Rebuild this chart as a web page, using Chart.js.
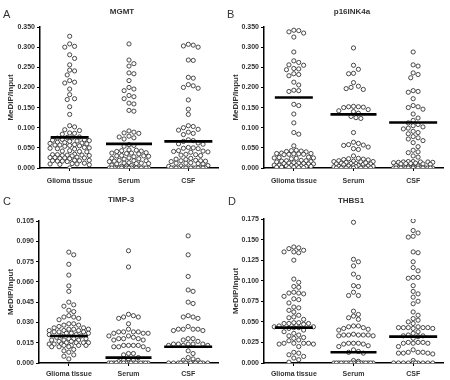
<!DOCTYPE html>
<html>
<head>
<meta charset="utf-8">
<script src="https://cdn.jsdelivr.net/npm/chart.js@4.4.1/dist/chart.umd.min.js"></script>
<style>
  html, body { margin: 0; padding: 0; background: #fff; }
  #wrap { position: relative; width: 450px; height: 380px; overflow: hidden; }
  canvas { position: absolute; }
</style>
</head>
<body>
<div id="wrap">
  <canvas id="cA" width="225" height="190" style="left:0;top:0"></canvas>
  <canvas id="cB" width="225" height="190" style="left:225px;top:0"></canvas>
  <canvas id="cC" width="225" height="190" style="left:0;top:190px"></canvas>
  <canvas id="cD" width="225" height="190" style="left:225px;top:190px"></canvas>
</div>
<script>
// ---------------- DATA ----------------
const categories = ['Glioma tissue', 'Serum', 'CSF'];

// Panel A: MGMT
const mgmtGlioma = [0.327,0.308,0.302,0.300,0.281,0.272,0.256,0.243,0.241,0.231,0.217,0.213,0.211,0.196,0.182,0.172,0.170,0.152,0.133,0.105,0.102,0.095,0.093,0.087,0.086,0.084,
  0.077,0.076,0.075,0.074,0.070,0.069,0.068,0.067,0.066,0.071,0.063,0.062,0.064,0.061,0.060,
  0.057,0.056,0.058,0.055,0.054,0.057,0.050,0.049,0.048,0.047,0.051,0.042,0.041,0.040,0.043,
  0.034,0.033,0.032,0.031,0.030,0.033,0.032,0.031,0.026,0.025,0.027,0.024,0.023,0.026,0.025,
  0.018,0.017,0.019,0.016,0.018,0.017,0.019,0.011,0.010,0.009,0.012,0.010,0.008,0.0];
const mgmtSerum = [0.308,0.268,0.259,0.253,0.236,0.234,0.217,0.200,0.196,0.192,0.180,0.177,0.172,0.161,0.159,0.143,0.141,
  0.092,0.089,0.087,0.086,0.079,0.077,0.075,0.072,0.058,0.056,0.054,
  0.045,0.043,0.042,0.044,0.041,0.037,0.036,0.038,0.035,0.037,0.030,0.029,0.031,0.028,0.030,
  0.024,0.023,0.025,0.022,0.018,0.017,0.019,0.016,0.018,0.012,0.011,0.013,0.010,0.012,0.011,
  0.006,0.005,0.007,0.004,0,0,0,0,0,0,0,0,0,0,0,0,0,0,0,0,0,0];
const mgmtCSF = [0.307,0.305,0.303,0.300,0.268,0.267,0.225,0.223,0.207,0.204,0.200,0.198,0.169,0.146,0.133,
  0.105,0.103,0.100,0.096,0.094,0.089,0.086,0.083,0.070,0.068,0.066,0.062,0.060,0.059,
  0.051,0.049,0.048,0.050,0.042,0.041,0.040,0.043,0.039,0.034,0.033,0.032,0.031,
  0.024,0.022,0.021,0.018,0.017,0.019,0.016,0.018,0.012,0.011,0.013,0.010,0.012,
  0.006,0.005,0.004,0,0,0,0,0,0,0,0,0,0,0,0,0,0];
const mgmtMeans = [0.076, 0.060, 0.066];
const mgmtTicks = [0, 0.05, 0.10, 0.15, 0.20, 0.25, 0.30, 0.35];

// Panel B: p16INK4a
const p16Glioma = [0.342,0.341,0.338,0.335,0.325,0.288,0.266,0.262,0.256,0.255,0.247,0.246,0.244,0.234,0.232,0.229,0.213,0.206,0.193,0.192,0.190,0.158,0.155,0.134,0.112,0.088,0.084,0.055,
  0.044,0.043,0.042,0.040,0.041,0.036,0.035,0.034,0.037,0.035,0.036,0.034,0.033,
  0.026,0.025,0.024,0.027,0.025,0.023,0.018,0.017,0.019,0.016,0.018,0.015,
  0.012,0.011,0.013,0.010,0.012,0.011,0.010,0.006,0.005,0.007,0.004,0.006,0.005,0.007,0.004,
  0.002,0.001,0.002,0.001,0.002,0.001];
const p16Serum = [0.298,0.255,0.245,0.235,0.234,0.212,0.203,0.200,0.197,0.195,0.153,0.152,0.152,0.151,0.150,0.145,0.142,0.140,0.136,0.128,0.125,0.123,
  0.088,0.064,0.061,0.058,0.057,0.056,0.052,0.048,0.046,0.030,0.024,0.022,0.021,0.020,0.023,
  0.017,0.016,0.015,0.018,0.014,0.016,0.011,0.010,0.012,0.009,0.010,0.011,0.013,0.008,
  0.006,0.005,0.004,0.006,0.003,0.005,0.004,0.003,0,0,0,0,0,0,0,0,0,0];
const p16CSF = [0.288,0.256,0.253,0.236,0.232,0.224,0.192,0.190,0.188,0.172,0.155,0.152,0.150,0.146,0.134,0.124,0.118,0.112,0.108,0.105,0.102,0.099,0.097,0.091,0.088,0.085,0.078,0.075,0.072,0.068,0.063,0.053,0.044,0.040,0.038,0.030,0.027,
  0.016,0.015,0.014,0.015,0.016,0.014,0.015,0.013,0.011,0.010,0.009,0.011,0.010,0.012,
  0.005,0.004,0.006,0.003,0,0,0,0,0,0,0,0,0,0,0,0,0,0,0,0,0,0];
const p16Means = [0.175, 0.133, 0.113];
const p16Ticks = [0, 0.05, 0.10, 0.15, 0.20, 0.25, 0.30, 0.35];

// Panel C: TIMP-3
const timpGlioma = [0.082,0.080,0.073,0.065,0.057,0.053,0.045,0.043,0.042,0.039,0.038,
  0.034,0.034,0.033,0.035,0.032,0.029,0.028,0.028,0.027,0.029,0.025,0.026,0.025,0.024,0.026,0.025,
  0.023,0.022,0.023,0.024,0.022,0.023,0.024,0.022,0.020,0.021,0.019,0.020,0.021,
  0.018,0.017,0.018,0.017,0.016,0.018,0.017,0.016,0.015,0.014,0.015,0.014,0.015,0.014,0.013,0.015,
  0.013,0.012,0.013,0.012,0.013,0.012,0.010,0.009,0.008,0.006,0.005,0.003];
const timpSerum = [0.083,0.071,0.036,0.035,0.034,0.034,0.033,0.029,0.025,
  0.023,0.023,0.022,0.023,0.022,0.023,0.022,0.020,0.019,0.020,0.018,0.017,0.018,0.017,0.018,
  0.013,0.013,0.012,0.013,0.012,0.013,0.012,0.010,0.007,0.006,0.007,0.004,0.003,0.002,0.001,0.002,
  0,0,0,0,0,0,0,0,0,0,0,0,0,0,0,0];
const timpCSF = [0.094,0.080,0.064,0.054,0.053,0.045,0.044,0.035,0.034,0.034,0.033,0.027,
  0.025,0.025,0.024,0.025,0.024,0.025,0.018,0.017,0.018,0.016,
  0.014,0.014,0.013,0.014,0.013,0.014,0.013,0.014,0.009,0.007,0.004,0.003,0.002,0.002,
  0,0,0,0,0,0,0,0,0,0,0,0,0,0];
const timpMeans = [0.020, 0.004, 0.012];
const timpTicks = [0, 0.015, 0.030, 0.045, 0.060, 0.075, 0.090, 0.105];

// Panel D: THBS1
const thbsGlioma = [0.141,0.140,0.139,0.137,0.135,0.135,0.134,0.125,0.102,0.098,0.093,0.092,0.086,0.085,0.085,0.084,0.081,0.078,0.077,0.073,0.068,0.067,0.064,0.062,0.058,0.056,0.055,0.053,
  0.049,0.048,0.048,0.047,0.049,0.048,0.045,0.044,0.043,0.042,0.044,0.043,
  0.040,0.038,0.036,0.034,0.033,0.031,0.030,0.028,0.027,0.024,0.024,0.023,0.024,0.023,0.024,
  0.020,0.013,0.012,0.010,0.008,0.006,0.004,0.001];
const thbsSerum = [0.171,0.126,0.123,0.118,0.108,0.104,0.094,0.093,0.086,0.082,0.082,0.063,0.059,0.057,0.055,0.053,
  0.045,0.044,0.043,0.042,0.041,0.045,0.040,0.034,0.034,0.033,0.034,0.035,0.033,0.034,0.034,
  0.024,0.023,0.024,0.023,0.024,0.021,0.020,0.016,0.014,0.013,0.012,0.003,0.002,
  0,0,0,0,0,0,0,0,0,0,0,0,0,0,0,0,0];
const thbsCSF = [0.173,0.161,0.158,0.154,0.153,0.135,0.134,0.123,0.116,0.112,0.104,0.104,0.103,0.094,0.087,0.084,0.080,0.075,0.072,0.062,0.058,0.054,0.052,0.050,0.048,
  0.043,0.043,0.042,0.043,0.044,0.043,0.042,0.043,0.038,0.036,0.034,0.033,0.033,0.032,0.030,
  0.025,0.024,0.025,0.024,0.025,0.024,0.020,0.016,0.013,0.012,0.013,0.012,0.013,0.012,0.011,
  0.003,0,0,0,0,0,0,0,0,0,0];
const thbsMeans = [0.043, 0.013, 0.032];
const thbsTicks = [0, 0.025, 0.050, 0.075, 0.100, 0.125, 0.150, 0.175];

// ---------------- RENDERING ----------------
const FONT = '"Liberation Sans", Arial, sans-serif';
const TXT = '#333';

const panels = [
  { canvas: 'cA', letter: 'A', title: 'MGMT', groups: [mgmtGlioma, mgmtSerum, mgmtCSF], means: mgmtMeans, ticks: mgmtTicks,
    area: { l: 40, t: 27, r: 218, b: 168 }, tx: 122, ty: 12, lx: 3, ly: 15, xPad: 6 },
  { canvas: 'cB', letter: 'B', title: 'p16INK4a', groups: [p16Glioma, p16Serum, p16CSF], means: p16Means, ticks: p16Ticks,
    area: { l: 39, t: 27, r: 218, b: 168 }, tx: 127, ty: 12, lx: 2, ly: 15, xPad: 6 },
  { canvas: 'cC', letter: 'C', title: 'TIMP-3', groups: [timpGlioma, timpSerum, timpCSF], means: timpMeans, ticks: timpTicks,
    area: { l: 39, t: 31, r: 218, b: 173 }, tx: 121, ty: 10, lx: 3, ly: 12, xPad: 4 },
  { canvas: 'cD', letter: 'D', title: 'THBS1', groups: [thbsGlioma, thbsSerum, thbsCSF], means: thbsMeans, ticks: thbsTicks,
    area: { l: 39, t: 29, r: 218, b: 173 }, tx: 126, ty: 11, lx: 3, ly: 12, xPad: 4 }
];

const panelText = {
  id: 'panelText',
  afterDraw(chart, args, o) {
    const ctx = chart.ctx;
    ctx.save();
    ctx.fillStyle = TXT;
    ctx.textBaseline = 'middle';
    ctx.textAlign = 'left';
    ctx.font = '11px ' + FONT;
    ctx.fillText(o.letter, o.lx, o.ly);
    ctx.textAlign = 'center';
    ctx.font = 'bold 8px ' + FONT;
    ctx.fillText(o.title, o.tx, o.ty);
    ctx.restore();
  }
};

const DOT_R = 2.1;
const DIAM = 4.9;
const MAX_HALF = 20;
const LINE_HALF = [19, 23, 24];

function swarmOffsets(ys) {
  const order = ys.map((y, i) => i).sort((a, b) => ys[a] - ys[b]);
  const placed = [];
  const offs = new Array(ys.length).fill(0);
  const step = DIAM / 2;
  const cands = [0];
  for (let k = 1; k * step <= MAX_HALF; k++) { cands.push(k * step, -k * step); }
  order.forEach(i => {
    const y = ys[i];
    let best = null, bestScore = -1;
    for (const c of cands) {
      let md = Infinity;
      for (const p of placed) {
        const dy = p.y - y;
        if (Math.abs(dy) >= DIAM) continue;
        const d = Math.hypot(p.x - c, dy);
        if (d < md) md = d;
      }
      if (md >= DIAM) { best = c; bestScore = Infinity; break; }
      if (md > bestScore + 0.01) { bestScore = md; best = c; }
    }
    offs[i] = best;
    placed.push({ x: best, y });
  });
  return offs;
}

panels.forEach(p => {
  const W = 225, H = 190;
  const datasets = [];
  p.means.forEach((m, i) => {
    datasets.push({
      data: [{ x: i, y: m }, { x: i, y: m }],
      showLine: true, pointRadius: 0, borderColor: '#000', borderWidth: 2.6, order: 0
    });
  });
  p.groups.forEach((vals, i) => {
    datasets.push({
      data: vals.map(v => ({ x: i, y: v })),
      pointRadius: DOT_R, pointBorderWidth: 0.85, pointBorderColor: '#2b2b2b',
      pointBackgroundColor: '#fff', showLine: false, order: 1
    });
  });

  const chart = new Chart(document.getElementById(p.canvas), {
    type: 'scatter',
    data: { datasets },
    plugins: [panelText],
    options: {
      responsive: false, animation: false, devicePixelRatio: 1,
      layout: { padding: { top: p.area.t, left: 0, right: W - p.area.r, bottom: 0 } },
      plugins: {
        legend: { display: false }, tooltip: { enabled: false },
        panelText: { letter: p.letter, title: p.title, tx: p.tx, ty: p.ty, lx: p.lx, ly: p.ly }
      },
      scales: {
        x: {
          type: 'linear', min: -0.5, max: 2.5,
          afterBuildTicks: s => { s.ticks = categories.map((c, i) => ({ value: i })); },
          afterFit: s => { s.height = H - p.area.b; },
          ticks: { autoSkip: false, maxRotation: 0, padding: p.xPad, color: TXT,
                   font: { family: FONT, size: 7, weight: 'bold' },
                   callback: (v, i) => categories[i] },
          grid: { display: true, drawOnChartArea: false, drawTicks: true, tickLength: 3, color: '#000', lineWidth: 1 },
          border: { display: true, color: '#000', width: 1.5 }
        },
        y: {
          type: 'linear', min: p.ticks[0], max: p.ticks[p.ticks.length - 1],
          afterBuildTicks: s => { s.ticks = p.ticks.map(v => ({ value: v })); },
          afterFit: s => { s.width = p.area.l; },
          ticks: { padding: 2, color: TXT, font: { family: FONT, size: 7, weight: 'bold' },
                   callback: v => Number(v).toFixed(3) },
          grid: { display: true, drawOnChartArea: false, drawTicks: true, tickLength: 3, color: '#000', lineWidth: 1 },
          border: { display: true, color: '#000', width: 1.5 },
          title: { display: true, text: 'MeDIP/Input', color: TXT, padding: { top: 6, bottom: 0 },
                   font: { family: FONT, size: 8, weight: 'bold' } }
        }
      }
    }
  });

  // beeswarm layout in pixel space, converted back through the library's scales
  const xs = chart.scales.x, ysc = chart.scales.y;
  const pxPerUnit = xs.getPixelForValue(1) - xs.getPixelForValue(0);
  p.groups.forEach((vals, i) => {
    const py = vals.map(v => ysc.getPixelForValue(v));
    const offs = swarmOffsets(py);
    chart.data.datasets[3 + i].data = vals.map((v, k) => ({ x: i + offs[k] / pxPerUnit, y: v }));
    const h = LINE_HALF[i] / pxPerUnit;
    chart.data.datasets[i].data = [{ x: i - h, y: p.means[i] }, { x: i + h, y: p.means[i] }];
  });
  chart.update('none');
});
</script>
</body>
</html>
